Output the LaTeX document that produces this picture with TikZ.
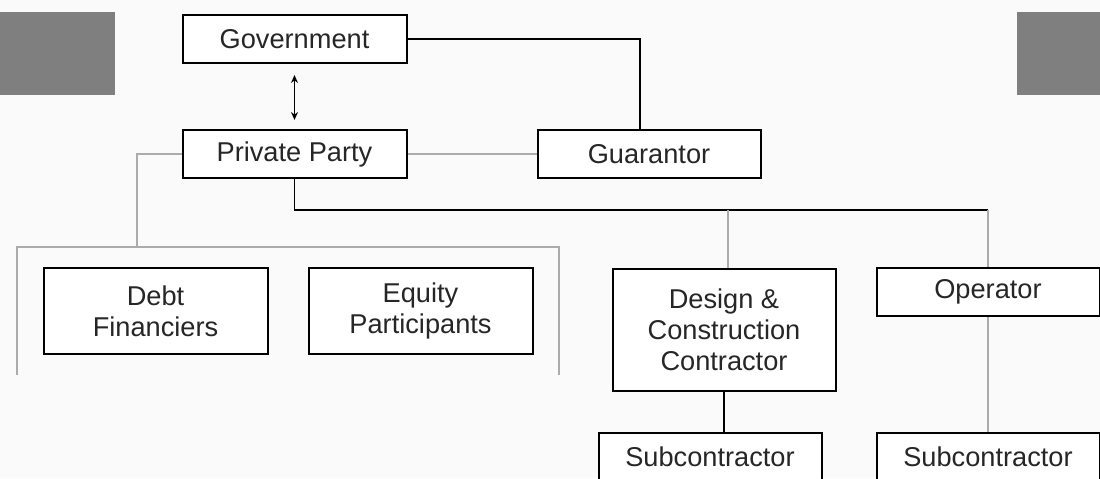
\documentclass[tikz,border=0pt]{standalone}
\usepackage{fontspec}
\setmainfont{Liberation Sans}
\usetikzlibrary{arrows.meta}

\definecolor{panel}{HTML}{7F7F7F}
\definecolor{thinline}{HTML}{ABABAB}
\definecolor{paper}{HTML}{FAFAFA}

\tikzset{
  party/.style={draw=black, line width=1pt, fill=white, inner sep=2pt,
    minimum width=112pt, minimum height=24pt, align=center,
    font=\fontsize{13.6}{15.6}\selectfont, text=black!85},
  mainlink/.style={draw=black, line width=0.8pt},
  sidelink/.style={draw=thinline, line width=0.6pt},
  biarrow/.style={mainlink, line width=0.8pt, {Stealth[length=4pt,width=3.5pt]}-{Stealth[length=4pt,width=3.5pt]}}
}

\begin{document}
\begin{tikzpicture}[x=0.5pt,y=-0.5pt]

% Page area and background
\useasboundingbox (0,0) rectangle (1100,478);
\clip (0,0) rectangle (1100,478);
\fill[paper] (0,0) rectangle (1100,478);

% Grey panels at the sides
\fill[panel] (0,12) rectangle (115,95);
\fill[panel] (1017,12) rectangle (1100,95);

% Junction points
\coordinate (lenders) at (137,247);
\coordinate (bus) at (988,210);
\coordinate (busC) at (728,210);

% Gray bracket round the financiers
\draw[sidelink] (17,375) -- (17,247) -- (559,247) -- (559,375);

% Parties
\node[party] (gov) at (294.5,39) {Government};
\node[party] (pp) at (294.5,154) {Private Party};
\node[party, minimum width=111.5pt] (guar) at (649,154) {Guarantor};
\node[party, minimum height=43pt] (debt) at (155.5,311) {Debt\\Financiers};
\node[party, minimum height=43pt] (equity) at (420.5,311) {Equity\\Participants};
\node[party, minimum width=111.5pt, minimum height=61pt] (dcc) at (724,329.5) {Design \&\\Construction\\Contractor};
\node[party, minimum width=111.5pt] (oper) at (988,292) {Operator};
\node[party, minimum width=111.5pt] (subA) at (710,457) {Subcontractor};
\node[party, minimum width=111.5pt] (subB) at (988,457) {Subcontractor};

% Links
\draw[biarrow] ([yshift=-5.5pt]gov.south) -- ([yshift=4.5pt]pp.north);
\draw[mainlink] (gov.east) -| ([xshift=-4.5pt]guar.north);
\draw[sidelink] (pp.east) -- (guar.west);
\draw[sidelink] (pp.west) -| (lenders);
\draw[mainlink] (pp.south) |- (bus);
\draw[sidelink] (busC) -- (busC |- dcc.north);
\draw[sidelink] (bus) -- (oper.north);
\draw[sidelink] (oper.south) -- (subB.north);
\draw[mainlink] (dcc.south) -- (dcc.south |- subA.north);

\end{tikzpicture}
\end{document}
